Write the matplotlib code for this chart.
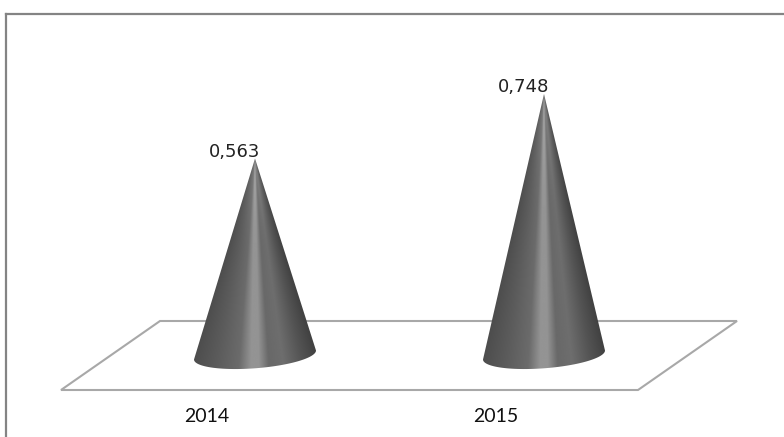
import matplotlib
matplotlib.use('Agg')
import matplotlib.pyplot as plt
from matplotlib.patches import PathPatch, Polygon
from matplotlib.path import Path
import numpy as np

# Values
years = ['2014', '2015']
values = [0.563, 0.748]
value_labels = ['0,563', '0,748']

W, H = 784, 437
PX_X = 289.0   # pixels between the two categories
PX_Y = 349.0   # pixels per unit of value
X0, Y0 = 255.0, 355.0   # pixel position of first cone, value 0

fig = plt.figure(figsize=(W / 100, H / 100), dpi=100, facecolor='white')
ax = fig.add_axes([0, 0, 1, 1])


def dx(px):
    return px / PX_X


def dy(px):
    return px / PX_Y


left, right = -dx(X0), dx(W - X0)
bottom, top = -dy(H - Y0), dy(Y0)
ax.axis('off')

# outer frame, runs off the bottom and right of the picture
ax.plot([left + dx(6)] * 2, [bottom, top - dy(14)], color='#848484', lw=1.6, zorder=1)
ax.plot([left + dx(6), right], [top - dy(14)] * 2, color='#848484', lw=1.6, zorder=1)

# floor of the 3d plot
floor = [(160, 321), (737, 321), (638, 390), (61, 390)]
ax.add_patch(Polygon([(dx(px - X0), dy(Y0 - py)) for px, py in floor], closed=True,
                     fc='white', ec='#a8a8a8', lw=1.5, zorder=2))

half_w = dx(61)
tilt = dy(4.5)
drop = dy(13.3)

# grey level across the cone, left rim to right rim
stop_u = [-1, -0.6, -0.25, -0.06, 0.06, 0.22, 0.45, 0.75, 1]
stop_g = [0.30, 0.36, 0.42, 0.58, 0.58, 0.41, 0.43, 0.33, 0.26]

for i, v in enumerate(values):
    # apex, then the lower arc of the tilted base from left rim to right rim
    t = np.linspace(np.pi, 2 * np.pi, 60)
    bx = i + half_w * np.cos(t)
    by = tilt * np.cos(t) + drop * np.sin(t)
    verts = [(i, v)] + list(zip(bx, by)) + [(i, v)]
    codes = [Path.MOVETO] + [Path.LINETO] * (len(verts) - 2) + [Path.CLOSEPOLY]
    clip = PathPatch(Path(verts, codes), fc='none', ec='none', transform=ax.transData)
    ax.add_patch(clip)

    # shading follows the cone's surface, converging on the apex
    ys = np.linspace(-drop - tilt, v, 500)
    xs = np.linspace(i - half_w, i + half_w, 300)
    gx, gy = np.meshgrid(xs, ys)
    r = np.clip((v - gy) / v, 0.004, None)
    u = np.clip((gx - i) / (half_w * r), -1, 1)
    shade = np.interp(u, stop_u, stop_g) + 0.10 * np.clip(1 - r / 0.5, 0, 1) ** 2
    im = ax.imshow(shade, extent=[xs[0], xs[-1], ys[0], ys[-1]], origin='lower',
                   cmap='gray', vmin=0, vmax=1, aspect='auto', zorder=3,
                   interpolation='bilinear')
    im.set_clip_path(clip)

    ax.text(i - dx(20.5), v - dy(2.5), value_labels[i], ha='center', va='bottom',
            fontsize=13, color='#222222', family='DejaVu Sans', zorder=5)
    ax.text(i - dx(48.5), -dy(61), years[i], ha='center', va='center', fontsize=14,
            color='#111111', family='Lato', zorder=5)

ax.set_xlim(left, right)
ax.set_ylim(bottom, top)

plt.savefig('out.png', dpi=100)
